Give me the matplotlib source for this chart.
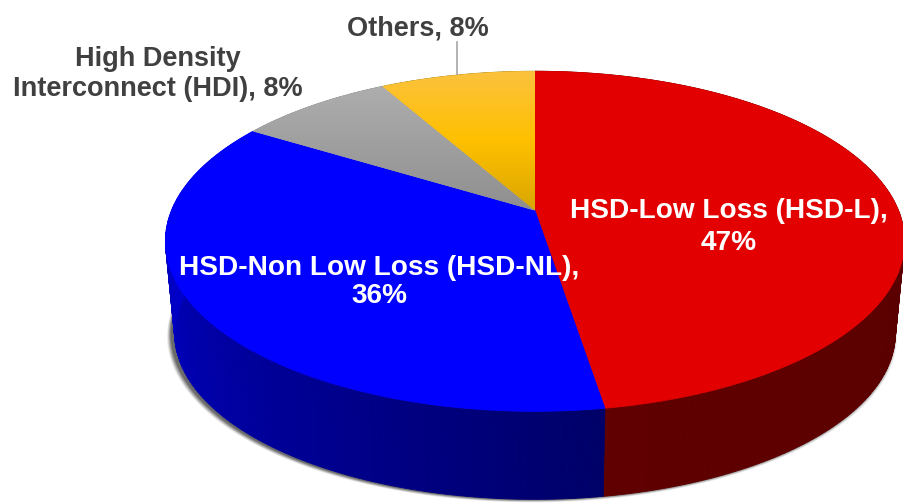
import numpy as np
import matplotlib
matplotlib.use("Agg")
import matplotlib.pyplot as plt
from matplotlib.colors import LinearSegmentedColormap, to_rgb
from matplotlib.patches import Polygon

# slices run clockwise from twelve o'clock
SLICE_NAMES = ["HSD-Low Loss (HSD-L)", "HSD-Non Low Loss (HSD-NL)",
               "High Density Interconnect (HDI)", "Others"]
SLICE_VALUES = [47, 36, 8, 8]
TOP_COLORS = [["#E30000", "#E30000"], ["#0000FF", "#0000FF"],
              ["#AEAEAE", "#8F8F8F"], ["#FBC23F", "#FFC000", "#D9A600"]]
# wall shade at the start and end angle of each slice
SIDE_COLORS = [["#520000", "#600000"], ["#000068", "#0000EB"],
               ["#808080", "#808080"], ["#A08000", "#A08000"]]

# perspective of the disc, in figure pixels
CX, CY = 535, 210.5
R, H, K = 363.5, 164.5, 0.181
LOWER_DY, LOWER_SCALE = 93, 0.975
LABEL_FONT = ["Liberation Sans", "DejaVu Sans"]
DARK_TEXT = "#404040"


def rim(theta, dy=0.0, scale=1.0):
    """Project angle(s) on the pie circle into figure pixels."""
    u, v = np.sin(theta), np.cos(theta)
    w = 1 + K * v
    return CX + scale * R * u / w, CY + dy - scale * H * v / w


fig = plt.figure(figsize=(9.04, 5.04), dpi=100)
ax = fig.add_axes([0, 0, 1, 1])
ax.set_xlim(0, 904)
ax.set_ylim(504, 0)
ax.axis("off")

edges = np.concatenate([[0], np.cumsum(SLICE_VALUES)]) / sum(SLICE_VALUES) * 2 * np.pi

# soft shadow under the lower rim, pushed a little to the left and down
full = np.linspace(0, 2 * np.pi, 360)
for grow, alpha in [(5, 0.12), (4, 0.2), (3, 0.28), (2, 0.38), (1, 0.5)]:
    sx, sy = rim(full, LOWER_DY, LOWER_SCALE)
    sx = CX + (sx - CX) * (1 + grow / 400) - 3
    sy = sy + grow * 0.6
    ax.fill(sx, sy, color="#505050", alpha=alpha, lw=0, zorder=1)

# side wall, drawn as thin strips for the shading
for i, side in enumerate(SIDE_COLORS):
    start, end = edges[i], edges[i + 1]
    c0, c1 = np.array(to_rgb(side[0])), np.array(to_rgb(side[1]))
    steps = max(int((end - start) * 60), 2)
    ts = np.linspace(start, end, steps + 1)
    for j in range(steps):
        seg = np.linspace(ts[j], ts[j + 1], 4)
        x0, y0 = rim(seg)
        x1, y1 = rim(seg[::-1], LOWER_DY, LOWER_SCALE)
        col = c0 + (c1 - c0) * (j + 0.5) / steps
        ax.fill(np.r_[x0, x1], np.r_[y0, y1], color=col, lw=0.6, zorder=2)

# top face, vertical gradient clipped to each wedge
for i, stops in enumerate(TOP_COLORS):
    arc = np.linspace(edges[i], edges[i + 1], 200)
    x, y = rim(arc)
    xs, ys = np.r_[CX, x], np.r_[CY, y]
    poly = Polygon(np.c_[xs, ys], closed=True, fc=stops[0], ec="none", zorder=3)
    ax.add_patch(poly)
    if stops[0] != stops[-1]:
        cmap = LinearSegmentedColormap.from_list(f"top{i}", stops)
        im = ax.imshow(np.linspace(0, 1, 256)[:, None], cmap=cmap, aspect="auto",
                       extent=(xs.min(), xs.max(), ys.max(), ys.min()), zorder=4)
        im.set_clip_path(poly)
    else:
        poly.set_edgecolor(stops[0])
        poly.set_linewidth(0.5)
ax.set_xlim(0, 904)
ax.set_ylim(504, 0)

# leader line of the "Others" label
ax.plot([457, 457], [42, 75], color="#A6A6A6", lw=1.2, zorder=2.5)

inner = dict(color="white", fontsize=20.2, fontweight="bold", family=LABEL_FONT,
             ha="center", va="center", zorder=6)
outer = dict(color=DARK_TEXT, fontsize=19.5, fontweight="bold", family=LABEL_FONT,
             ha="center", va="center", linespacing=1.15, zorder=6)
ax.text(729, 227, f"{SLICE_NAMES[0]},\n{SLICE_VALUES[0]}%", linespacing=1.28, **inner)
ax.text(379, 282, f"{SLICE_NAMES[1]},\n{SLICE_VALUES[1]}%", linespacing=1.14, **inner)
ax.text(158, 74, f"High Density\nInterconnect (HDI), {SLICE_VALUES[2]}%", **outer)
ax.text(418, 29, f"{SLICE_NAMES[3]}, {SLICE_VALUES[3]}%", **outer)

fig.savefig("out.png", dpi=100, facecolor="white")
